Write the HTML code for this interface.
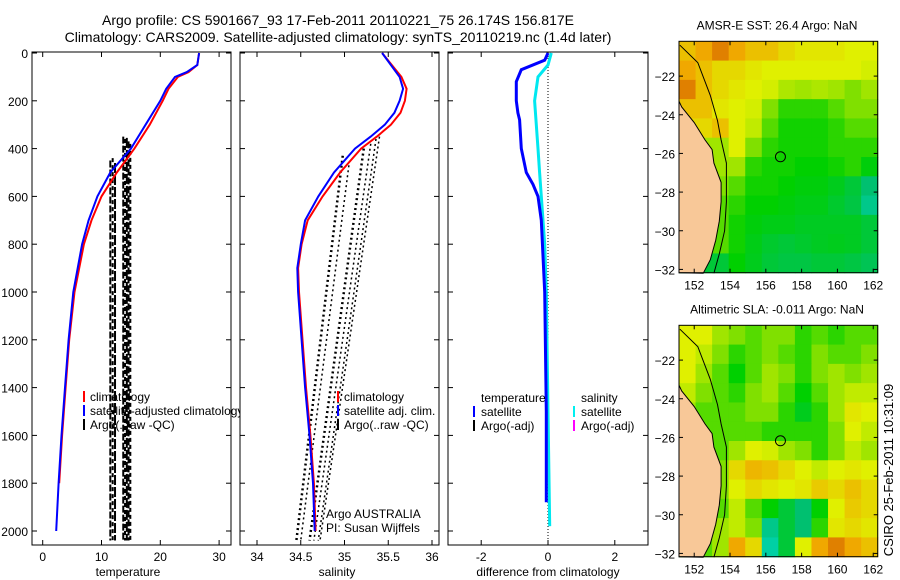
<!DOCTYPE html>
<html><head><meta charset="utf-8"><style>
body{margin:0;background:#fff}
svg{font-family:"Liberation Sans",sans-serif;display:block}
text{fill:#000}
</style></head><body>
<svg id="s" width="900" height="580" viewBox="0 0 900 580">
<rect width="900" height="580" fill="#fff"/>
<text x="338" y="25" font-size="14" text-anchor="middle">Argo profile: CS 5901667_93 17-Feb-2011 20110221_75 26.174S 156.817E</text>
<text x="338" y="42" font-size="14" text-anchor="middle">Climatology: CARS2009. Satellite-adjusted climatology: synTS_20110219.nc (1.4d later)</text>
<g id="g"></g>
<text transform="translate(893,470) rotate(-90)" font-size="13" text-anchor="middle">CSIRO 25-Feb-2011 10:31:09</text>
</svg>
<script>
// ---- data ----
const depthTicks=[0,200,400,600,800,1000,1200,1400,1600,1800,2000];
const tempTicks=[0,10,20,30];
const salTicks=["34","34.5","35","35.5","36"];
const diffTicks=[-2,0,2];
const tDepthBlue=[0,50,80,100,150,200,300,400,500,600,700,800,1000,1200,1400,1600,1800,2000];
const tempSat=[26.6,26.3,24.5,22.5,21,20,17.5,15,11.5,9.3,7.8,6.7,5.2,4.4,3.8,3.2,2.7,2.3];
const tDepthRed=[0,50,80,100,150,200,300,400,500,600,700,800,1000,1200,1400,1600,1800];
const tempClim=[26.6,26.3,24.8,23,21.4,20.4,18.2,15.6,12.6,10,8.3,7,5.4,4.5,3.9,3.3,2.8];
const argoTempCols=[11.5,11.9,12.3,13.7,14.0,14.3,14.6,14.9];
const argoTempTop=[450,440,460,350,360,355,370,380];
const sDepth=[0,100,150,200,250,300,350,400,500,600,700,800,900,1000,1200,1400,1600,1800,2000];
const salSat=[35.43,35.63,35.67,35.63,35.57,35.46,35.3,35.12,34.88,34.7,34.55,34.5,34.46,34.47,34.51,34.55,34.6,34.64,34.66];
const salClim=[35.43,35.65,35.71,35.69,35.64,35.53,35.37,35.19,34.95,34.75,34.58,34.51,34.47,34.48,34.52,34.56,34.61,34.65,34.67];
const argoSalTopS=[34.98,35.05,35.22,35.3,35.36,35.4];
const argoSalTopD=[430,470,400,380,360,350];
const argoSalBotS=[34.45,34.5,34.6,34.65,34.7,34.72];
const argoSalBotD=[2040,2040,2040,2040,2040,2040];
const dDepthT=[0,30,70,120,200,250,280,400,500,550,600,700,1000,1500,1880];
const diffTemp=[0,-0.1,-0.8,-0.95,-0.95,-0.9,-0.85,-0.8,-0.65,-0.45,-0.3,-0.2,-0.1,-0.05,-0.05];
const dDepthS=[0,50,100,200,300,400,500,600,800,1000,1500,1980];
const diffSal=[0.1,0,-0.3,-0.4,-0.35,-0.3,-0.25,-0.2,-0.1,-0.05,0,0.05];
const lonTicks=[152,154,156,158,160,162];
const latTicks=[-22,-24,-26,-28,-30,-32];
const sstGrid=[
[.8,.85,.9,.85,.8,.8,.75,.72,.72,.72,.7,.7],
[.85,.8,.75,.75,.72,.7,.7,.7,.7,.7,.7,.68],
[.9,.8,.75,.72,.7,.68,.62,.6,.62,.6,.55,.6],
[.8,.8,.72,.7,.68,.55,.45,.45,.45,.5,.55,.55],
[.75,.75,.8,.7,.65,.5,.42,.42,.42,.45,.5,.5],
[.6,.6,.6,.7,.55,.45,.42,.42,.42,.45,.45,.45],
[.6,.6,.6,.6,.45,.42,.42,.4,.4,.42,.45,.38],
[.55,.55,.55,.5,.42,.42,.4,.38,.38,.35,.3,.2],
[.5,.5,.5,.45,.4,.4,.38,.36,.36,.32,.28,.15],
[.5,.5,.5,.42,.38,.36,.36,.34,.34,.34,.34,.3],
[.5,.5,.5,.42,.36,.32,.3,.32,.34,.35,.34,.3],
[.3,.3,.3,.4,.35,.3,.28,.28,.3,.3,.28,.25]];
const slaGrid=[
[.7,.7,.6,.55,.5,.55,.55,.45,.5,.45,.5,.5],
[.7,.65,.55,.45,.5,.55,.5,.45,.55,.5,.5,.55],
[.7,.6,.5,.4,.5,.6,.55,.45,.55,.6,.55,.6],
[.65,.55,.5,.45,.55,.6,.5,.4,.5,.6,.65,.65],
[.6,.5,.5,.5,.55,.55,.45,.35,.45,.6,.72,.7],
[.55,.5,.5,.5,.5,.45,.45,.45,.45,.55,.7,.65],
[.55,.5,.5,.6,.7,.68,.6,.55,.45,.55,.65,.6],
[.5,.5,.55,.75,.82,.8,.75,.7,.65,.7,.72,.7],
[.5,.5,.55,.7,.75,.72,.7,.72,.78,.75,.8,.75],
[.5,.5,.5,.65,.5,.4,.3,.2,.4,.7,.78,.75],
[.5,.5,.6,.65,.55,.15,.3,.2,.45,.72,.75,.72],
[.5,.5,.6,.85,.75,.1,.3,.7,.85,.9,.85,.8]];
const coastLon=[151.15,151.3,152.0,152.6,153.0,153.1,153.5,153.5,153.4,153.2,152.9,152.5];
const coastLat=[-23.3,-23.6,-24.4,-25.3,-25.8,-26.5,-27.5,-28.5,-29.5,-30.5,-31.5,-32.2];
const shelfLon=[151.2,152.2,152.9,153.3,153.5,153.8,153.8,153.7,153.4,153.1];
const shelfLat=[-20.4,-21.3,-23.0,-24.3,-25.3,-26.5,-28.5,-30,-31.2,-32.2];
const argoLon=156.817, argoLat=-26.174;

// ---- helpers ----
const NS="http://www.w3.org/2000/svg";const G=document.getElementById('g');
function mk(t,a,p){const e=document.createElementNS(NS,t);for(const k in a)e.setAttribute(k,a[k]);(p||G).appendChild(e);return e;}
function txt(x,y,s,sz,anc,p){const e=mk('text',{x:x,y:y,'font-size':sz,'text-anchor':anc||'start'},p);e.textContent=s;return e;}
const yD=d=>53+d*0.239;
const PB=545;
function panel(x0,x1,name,xs,ticks,labels,xlabel,lx){
 const g=mk('g',{});
 
 
 mk('rect',{x:x0,y:52,width:x1-x0,height:PB-52,fill:'#fff',stroke:'#000','stroke-width':1},g);
 depthTicks.forEach(d=>{const y=yD(d);mk('line',{x1:x0,y1:y,x2:x0+5,y2:y,stroke:'#000'},g);mk('line',{x1:x1-5,y1:y,x2:x1,y2:y,stroke:'#000'},g);});
 ticks.forEach((v,i)=>{const x=xs(v);mk('line',{x1:x,y1:PB,x2:x,y2:PB-5,stroke:'#000'},g);mk('line',{x1:x,y1:52,x2:x,y2:57,stroke:'#000'},g);
  const t=txt(x,561,labels[i],12,'middle',g);});
 const t=txt(lx,576,xlabel,12,'middle',g);
 return g;}
function line(xs,ds,fx,col,w,name,p,dash){const pts=xs.map((v,i)=>fx(v).toFixed(1)+','+yD(ds[i]).toFixed(1)).join(' ');
 const e=mk('polyline',{points:pts,fill:'none',stroke:col,'stroke-width':w},p);if(dash)e.setAttribute('stroke-dasharray',dash);
 
 return e;}

// y labels
depthTicks.forEach(d=>{const t=txt(28,yD(d)+5,String(d),12,'end');});

// Panel 1 temperature
const xT=v=>42.7+v*5.88;
const p1=panel(32,231,'temperature-panel',xT,tempTicks,tempTicks.map(String),'temperature',128);
argoTempCols.forEach((c,i)=>{const e=mk('line',{x1:xT(c),y1:yD(argoTempTop[i]),x2:xT(c),y2:yD(2040),stroke:'#000','stroke-width':2,'stroke-dasharray':(i%3==0?'7,2':(i%3==1?'4,3':'10,2'))},p1);
 
 });
line(tempClim,tDepthRed,xT,'#f00',2,'temp-climatology-line',p1);
line(tempSat,tDepthBlue,xT,'#00f',2,'temp-satellite-line',p1);
[['#f00','climatology'],['#00f','satellite-adjusted climatology'],['#000','Argo(..raw -QC)']].forEach((l,i)=>{const y=397+i*14;
 mk('rect',{x:83,y:y-6,width:2,height:11,fill:l[0]},p1);const t=txt(90,y+4,l[1],12,'start',p1);});

// Panel 2 salinity
const xS=v=>257+(v-34)*87.5;
const p2=panel(240,439,'salinity-panel',xS,salTicks.map(Number),salTicks,'salinity',337);
argoSalTopS.forEach((s,i)=>{const e=mk('line',{x1:xS(s),y1:yD(argoSalTopD[i]),x2:xS(argoSalBotS[i]),y2:yD(argoSalBotD[i]),stroke:'#000','stroke-width':(i==0||i==2?2.5:1.5),'stroke-dasharray':'2,3'},p2);
 
 });
line(salClim,sDepth,xS,'#f00',2,'sal-climatology-line',p2);
line(salSat,sDepth,xS,'#00f',2,'sal-satellite-line',p2);
[['#f00','climatology'],['#00f','satellite adj. clim.'],['#000','Argo(..raw -QC)']].forEach((l,i)=>{const y=397+i*14;
 mk('rect',{x:337,y:y-6,width:2,height:11,fill:l[0]},p2);const t=txt(344,y+4,l[1],12,'start',p2);});
txt(326,518,'Argo AUSTRALIA',12,'start',p2);
txt(326,532,'PI: Susan Wijffels',12,'start',p2);

// Panel 3 difference
const xDf=v=>548+v*33.4;
const p3=panel(448,648,'difference-panel',xDf,diffTicks,diffTicks.map(String),'difference from climatology',548);
mk('line',{x1:xDf(0),y1:52,x2:xDf(0),y2:PB,stroke:'#000','stroke-dasharray':'1,2'},p3);
line(diffSal,dDepthS,xDf,'#00e8f0',3,'sal-diff-line',p3);
line(diffTemp,dDepthT,xDf,'#00f',3,'temp-diff-line',p3);
txt(481,402,'temperature',12,'start',p3);txt(581,402,'salinity',12,'start',p3);
[['#00f','satellite',473,481,0],['#000','Argo(-adj)',473,481,1],['#00f0f0','satellite',573,581,0],['#f0f','Argo(-adj)',573,581,1]].forEach(l=>{const y=412+l[4]*14;
 mk('rect',{x:l[2],y:y-6,width:2,height:11,fill:l[0]},p3);const t=txt(l[3],y+4,l[1],12,'start',p3);});

// Maps
const stops=[[0,[0,224,216]],[0.2,[0,192,112]],[0.4,[0,208,0]],[0.55,[128,224,0]],[0.7,[224,240,0]],[0.85,[240,168,0]],[1,[192,48,0]]];
function cmap(v){for(let i=1;i<stops.length;i++){if(v<=stops[i][0]){const a=stops[i-1],b=stops[i],f=(v-a[0])/(b[0]-a[0]);return 'rgb('+a[1].map((c,k)=>Math.round(c+(b[1][k]-c)*f)).join(',')+')';}}return 'rgb(192,48,0)';}
function map(y0,grid,title,name){
 const g=mk('g',{});
 
 
 const X0=679,X1=877.7,Y1=y0+231.4;const lon0=151.15,lon1=162.25,lat0=-20.2,lat1=-32.17;
 const mx=l=>X0+(l-lon0)/(lon1-lon0)*(X1-X0),my=l=>y0+(l-lat0)/(lat1-lat0)*(Y1-y0);
 const tt=txt(777,y0-12,title,12,'middle',g);
 const rows=grid.length,cols=grid[0].length,cw=(X1-X0)/cols,ch=(Y1-y0)/rows;
 grid.forEach((r,i)=>r.forEach((v,j)=>{const c=mk('rect',{x:X0+j*cw,y:y0+i*ch,width:cw+0.6,height:ch+0.6,fill:cmap(v)},g);
  
  }));
 const land=coastLon.map((l,i)=>mx(l).toFixed(1)+','+my(coastLat[i]).toFixed(1));
 land.push(X0+','+Y1);
 const lp=mk('polygon',{points:land.join(' '),fill:'#f8c898',stroke:'#000','stroke-width':1},g);
 
 
 mk('polyline',{points:shelfLon.map((l,i)=>mx(l).toFixed(1)+','+my(shelfLat[i]).toFixed(1)).join(' '),fill:'none',stroke:'#000','stroke-width':1},g);
 const ac=mk('circle',{cx:mx(argoLon),cy:my(argoLat),r:5,fill:'none',stroke:'#000'},g);
 
 
 mk('rect',{x:X0,y:y0,width:X1-X0,height:Y1-y0,fill:'none',stroke:'#000'},g);
 lonTicks.forEach(l=>{const x=mx(l);mk('line',{x1:x,y1:Y1,x2:x,y2:Y1-4,stroke:'#000'},g);mk('line',{x1:x,y1:y0,x2:x,y2:y0+4,stroke:'#000'},g);
  const t=txt(x,Y1+17,String(l),12,'middle',g);});
 latTicks.forEach(l=>{const y=my(l);mk('line',{x1:X0,y1:y,x2:X0+4,y2:y,stroke:'#000'},g);mk('line',{x1:X1-4,y1:y,x2:X1,y2:y,stroke:'#000'},g);
  const t=txt(X0-4,y+5,String(l).replace('-','\u2212'),12,'end',g);});
}
map(41.3,sstGrid,'AMSR-E SST: 26.4 Argo: NaN','sst-map');
map(325.3,slaGrid,'Altimetric SLA: -0.011 Argo: NaN','sla-map');
</script>
</body></html>
